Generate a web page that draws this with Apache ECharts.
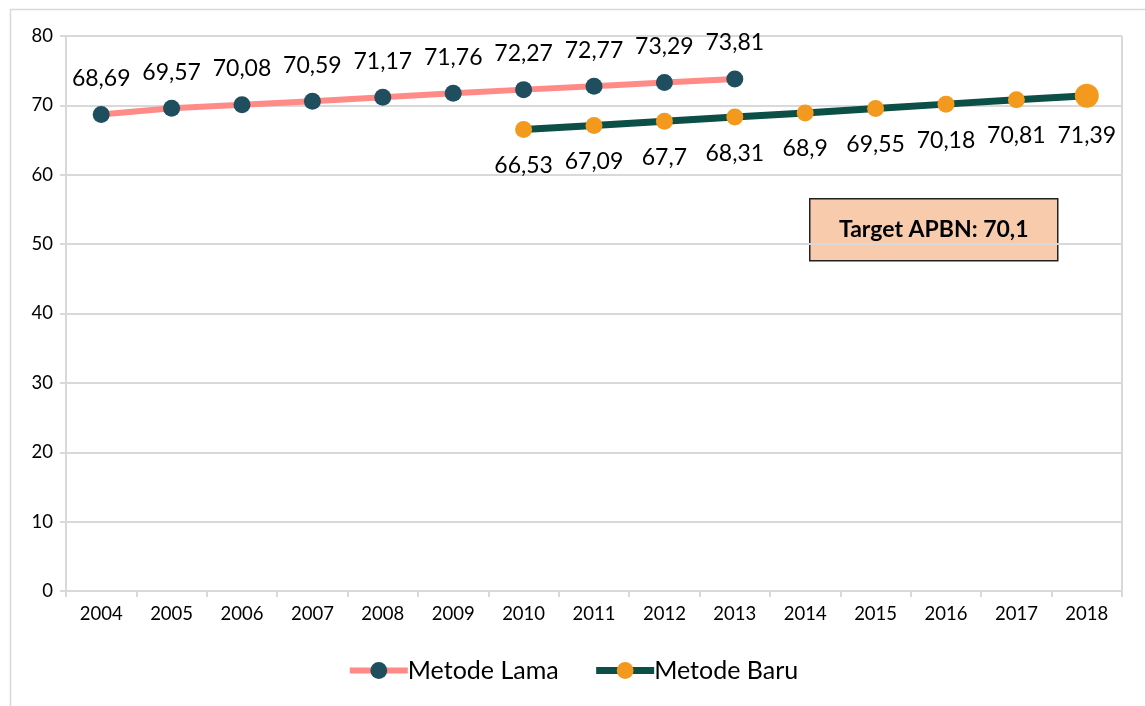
<!DOCTYPE html>
<html>
<head>
<meta charset="utf-8">
<style>
  html, body { margin: 0; padding: 0; background: #fff; }
  #chart { width: 1145px; height: 706px; }
</style>
<script src="https://cdn.jsdelivr.net/npm/echarts@6/dist/echarts.min.js"></script>
</head>
<body>
<div id="chart"></div>
<script>
var years = ['2004','2005','2006','2007','2008','2009','2010','2011','2012','2013','2014','2015','2016','2017','2018'];
var metodeLama = [68.69, 69.57, 70.08, 70.59, 71.17, 71.76, 72.27, 72.77, 73.29, 73.81, null, null, null, null, null];
var metodeBaru = [null, null, null, null, null, null, 66.53, 67.09, 67.7, 68.31, 68.9, 69.55, 70.18, 70.81, 71.39];
var targetText = 'Target APBN: 70,1';

var font = 'Lato, "Open Sans", sans-serif';
var chart = echarts.init(document.getElementById('chart'));

function koma(p) {
  return String(p.value).replace('.', ',');
}

// titik terakhir metode baru lebih besar
var baruData = metodeBaru.map(function (v, i) {
  if (i === metodeBaru.length - 1) return { value: v, symbolSize: 24 };
  return v;
});

var option = {
  animation: false,
  textStyle: { fontFamily: font },
  grid: { left: 66, right: 23, top: 36, bottom: 115 },
  xAxis: {
    type: 'category',
    data: years,
    boundaryGap: true,
    axisLine: { lineStyle: { color: '#d9d9d9', width: 2 } },
    axisTick: { show: true, length: 6, lineStyle: { color: '#d9d9d9', width: 2 } },
    axisLabel: { color: '#000', fontSize: 18.5, margin: 14, fontFamily: font },
    splitLine: { show: false }
  },
  yAxis: {
    type: 'value',
    min: 0,
    max: 80,
    interval: 10,
    axisLine: { show: true, lineStyle: { color: '#d9d9d9', width: 2 } },
    axisTick: { show: true, length: 6, lineStyle: { color: '#d9d9d9', width: 2 } },
    axisLabel: { color: '#000', fontSize: 18.5, margin: 13, fontFamily: font },
    splitLine: { lineStyle: { color: '#d9d9d9', width: 2 } }
  },
  legend: {
    bottom: 18,
    left: 'center',
    itemWidth: 58,
    itemHeight: 21,
    itemGap: 34,
    textStyle: { color: '#000', fontSize: 25, fontFamily: font, padding: [0, 0, 0, -5] },
    data: [
      { name: 'Metode Lama', lineStyle: { width: 6 } },
      { name: 'Metode Baru', lineStyle: { width: 7 } }
    ]
  },
  series: [
    {
      name: 'Metode Lama',
      type: 'line',
      data: metodeLama,
      symbol: 'circle',
      symbolSize: 17,
      lineStyle: { color: '#ff8a86', width: 6 },
      itemStyle: { color: '#1f4e5f' },
      label: {
        show: true,
        position: 'top',
        distance: 16,
        fontSize: 23,
        color: '#000',
        fontFamily: font,
        formatter: koma
      },
      z: 3
    },
    {
      name: 'Metode Baru',
      type: 'line',
      data: baruData,
      symbol: 'circle',
      symbolSize: 17,
      lineStyle: { color: '#0b4f47', width: 7 },
      itemStyle: { color: '#f39a1e' },
      label: {
        show: true,
        position: 'bottom',
        distance: 16,
        fontSize: 23,
        color: '#000',
        fontFamily: font,
        formatter: koma
      },
      z: 2
    }
  ],
  graphic: [
    {
      type: 'rect',
      left: 8,
      top: 7,
      shape: { width: 1150, height: 720 },
      style: { fill: 'none', stroke: '#d9d9d9', lineWidth: 1.5 },
      silent: true
    },
    {
      type: 'rect',
      shape: { x: 1122, y: 36, width: 0, height: 561 },
      style: { fill: 'none', stroke: '#d9d9d9', lineWidth: 2 },
      silent: true
    },
    {
      type: 'group',
      left: 809,
      top: 198,
      children: [
        {
          type: 'rect',
          shape: { x: 0, y: 0, width: 248, height: 62 },
          style: { fill: '#f8cbad', stroke: '#222', lineWidth: 1.5 }
        },
        {
          type: 'text',
          x: 124,
          y: 31,
          style: {
            text: targetText,
            font: 'bold 23px ' + font,
            fill: '#000',
            align: 'center',
            verticalAlign: 'middle'
          }
        }
      ]
    }
  ]
};

chart.setOption(option);
</script>
</body>
</html>
